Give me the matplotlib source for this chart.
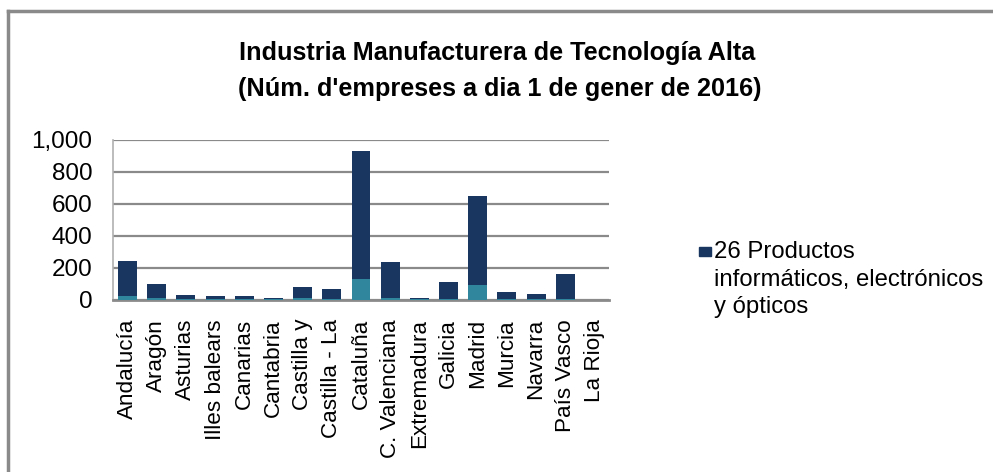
import matplotlib
matplotlib.use("Agg")
import matplotlib.pyplot as plt
from matplotlib.lines import Line2D
from matplotlib.patches import Rectangle

plt.rcParams['font.family'] = ['Liberation Sans', 'DejaVu Sans']

# === Datos ===
regiones = ['Andalucía', 'Aragón', 'Asturias', 'Illes balears', 'Canarias', 'Cantabria',
            'Castilla y', 'Castilla - La', 'Cataluña', 'C. Valenciana', 'Extremadura',
            'Galicia', 'Madrid', 'Murcia', 'Navarra', 'País Vasco', 'La Rioja']
# serie inferior (turquesa)
serie_21 = [20, 9, 2, 2, 2, 1, 9, 3, 130, 8, 1, 3, 93, 2, 2, 3, 0]
# totales
totales = [242, 100, 28, 20, 20, 11, 76, 67, 930, 234, 12, 107, 649, 45, 36, 157, 0]
serie_26 = [t - b for t, b in zip(totales, serie_21)]

yticks = [0, 200, 400, 600, 800, 1000]
ytick_labels = ['0', '200', '400', '600', '800', '1,000']

navy = '#193660'
teal = '#2f869d'
gris = '#8a8a8a'

fig = plt.figure(figsize=(9.93, 4.72), dpi=100)
ax = fig.add_axes([113 / 993, 1 - 299.5 / 472, (609 - 113) / 993, 160 / 472])

x = range(len(regiones))
ax.bar(x, serie_21, width=0.65, color=teal, zorder=3)
ax.bar(x, serie_26, width=0.65, bottom=serie_21, color=navy, zorder=3)

ax.set_xlim(-0.5, len(regiones) - 0.5)
ax.set_ylim(0, 1000)
ax.set_yticks(yticks)
ax.set_yticklabels(ytick_labels)
ax.set_xticks(list(x))
ax.set_xticklabels(regiones, rotation=90, va='top', ha='center')
ax.tick_params(axis='y', length=0, pad=15, labelsize=17.5)
ax.tick_params(axis='x', length=0, pad=14, labelsize=16.2)
ax.grid(axis='y', color=gris, linewidth=1.6, zorder=0)

for s in ['top', 'right']:
    ax.spines[s].set_visible(False)
ax.spines['left'].set_color('#b0b0b0')
ax.spines['left'].set_linewidth(1.2)
ax.spines['bottom'].set_color(gris)
ax.spines['bottom'].set_linewidth(2)

# Título
fig.text(497 / 993, 1 - 53 / 472, 'Industria Manufacturera de Tecnología Alta',
         ha='center', va='center', fontsize=18.2, fontweight='bold')
fig.text(500 / 993, 1 - 89 / 472, "(Núm. d'empreses a dia 1 de gener de 2016)",
         ha='center', va='center', fontsize=18.2, fontweight='bold')

# Leyenda
fig.patches.append(Rectangle((699 / 993, 1 - 256 / 472), 12 / 993, 9 / 472,
                             transform=fig.transFigure, color=navy, figure=fig))
fig.text(714 / 993, 1 - 241 / 472, '26 Productos\ninformáticos, electrónicos\ny ópticos',
         ha='left', va='top', fontsize=17.2, linespacing=1.33,
         transform=fig.transFigure)

# Marco
fig.add_artist(Line2D([8 / 993, 8 / 993], [0, 1 - 11 / 472], color=gris, linewidth=2.5,
                      transform=fig.transFigure))
fig.add_artist(Line2D([8 / 993, 1], [1 - 11 / 472, 1 - 11 / 472], color=gris, linewidth=2.5,
                      transform=fig.transFigure))

fig.savefig('out.png', dpi=100)
